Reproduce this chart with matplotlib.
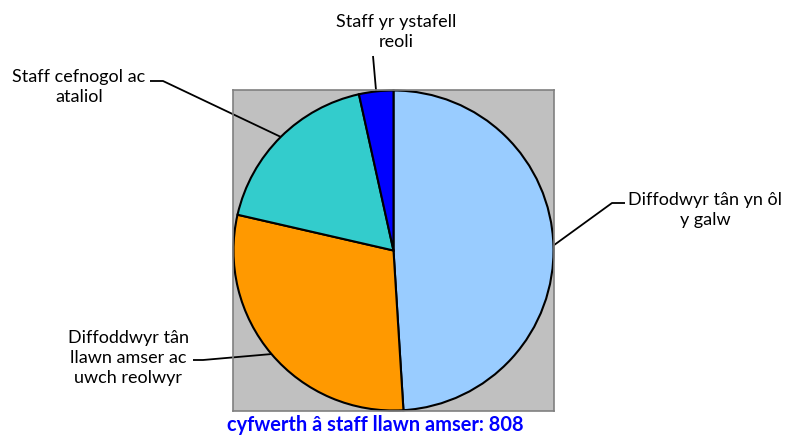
import numpy as np
import matplotlib
matplotlib.use("Agg")
from matplotlib import pyplot as plt

labels = ['Diffodwyr tân yn ôl\ny galw', 'Diffoddwyr tân\nllawn amser ac\nuwch reolwyr',
          'Staff cefnogol ac\nataliol', 'Staff yr ystafell\nreoli']
values = [396, 239, 145, 28]
colors = ['#99CCFF', '#FF9900', '#33CCCC', '#0000FF']
title = 'cyfwerth â staff llawn amser: 808'

plt.rcParams['font.family'] = ['Lato', 'DejaVu Sans']

W, H = 787, 439
fig = plt.figure(figsize=(W / 100, H / 100), dpi=100)
# plot area in pixels (left, top, size)
L, T, S = 233, 91, 321
ax = fig.add_axes([L / W, (H - T - S) / H, S / W, S / H])

wedges, _ = ax.pie(values, colors=colors, startangle=90, counterclock=False, radius=1,
                   wedgeprops=dict(edgecolor='black', linewidth=1.5))
ax.set_frame_on(True)
ax.set_facecolor('#C0C0C0')
for sp in ax.spines.values():
    sp.set_color('#808080')
    sp.set_linewidth(1.2)
ax.set_xticks([])
ax.set_yticks([])
ax.set_xlim(-1.003, 1.003)
ax.set_ylim(-1.003, 1.003)
ax.set_aspect('auto')

cx, cy, scale = L + S / 2, T + S / 2, S / 2 / 1.003


def px(x, y):
    return (x - cx) / scale, (cy - y) / scale


# elbow point, line end point (pixels), text centre
leaders = [
    ((612, 204), (625, 204), (705, 210)),
    ((203, 361), (193, 361), (128, 358)),
    ((163, 82), (150, 82), (79, 87)),
    ((373, 57), (373, 57), (396, 32)),
]

for w, (elbow, end, tpos), lab in zip(wedges, leaders, labels):
    mid = np.deg2rad((w.theta1 + w.theta2) / 2)
    x0, y0 = np.cos(mid), np.sin(mid)
    x1, y1 = px(*elbow)
    x2, y2 = px(*end)
    ax.plot([x0, x1, x2], [y0, y1, y2], color='black', lw=1.3, clip_on=False,
            solid_capstyle='butt')
    fig.text(tpos[0] / W, 1 - tpos[1] / H, lab, ha='center', va='center', fontsize=13,
             linespacing=1.3, color='black')

fig.text(375 / W, 1 - 425 / H, title, ha='center', va='center', fontsize=14.4,
         fontweight='bold', color='#0000FF')

fig.savefig('out.png', dpi=100)
